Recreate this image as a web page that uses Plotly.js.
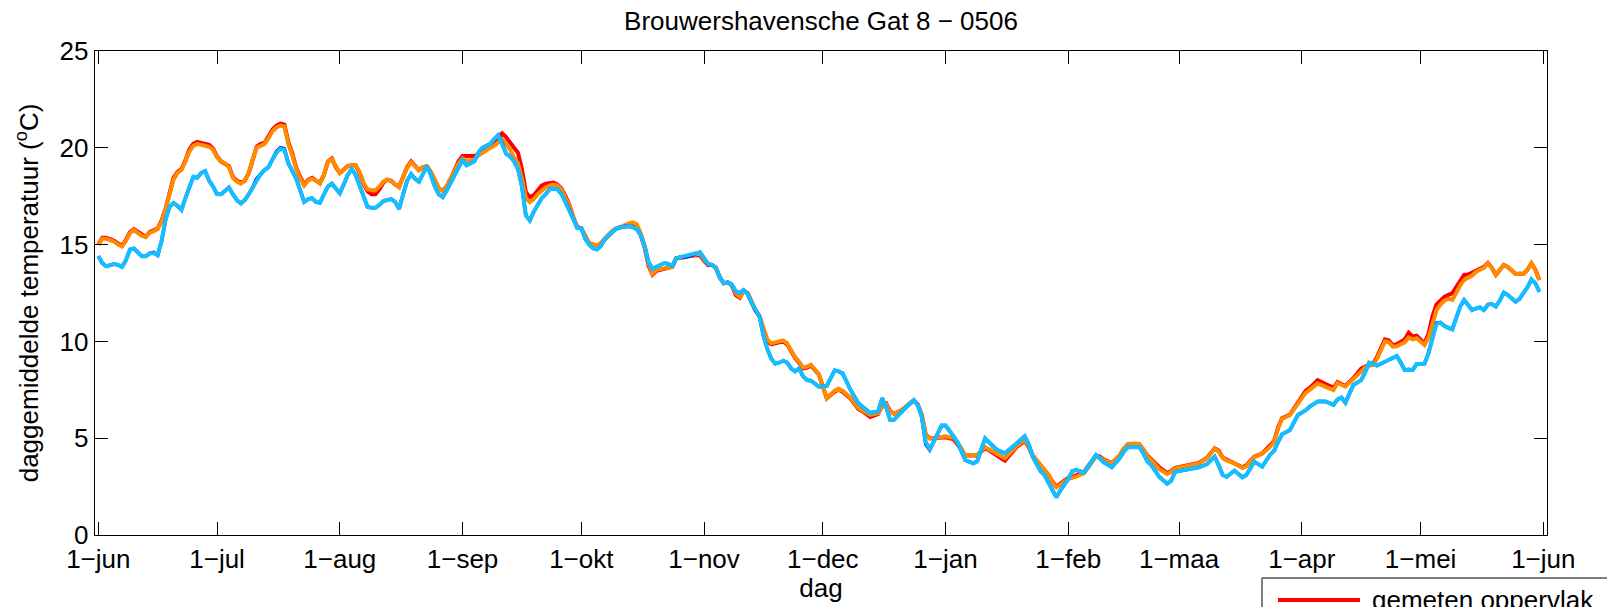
<!DOCTYPE html>
<html>
<head>
<meta charset="utf-8">
<script src="https://cdn.plot.ly/plotly-3.0.1.min.js"></script>
<style>html,body{margin:0;padding:0;background:#fff;}#chart{width:1607px;height:607px;}</style>
</head>
<body>
<div id="chart"></div>
<script>
// Day offsets from 1 June 2005
const startDate = Date.UTC(2005, 5, 1);
const dayOffsets = [
  0,1,2,3,4,5,6,7,8,9,10,11,12,13,14,15,16,17,18,19,20,21,22,23,24,25,26,27,28,29,
  30,31,32,33,34,35,36,37,38,39,40,41,42,43,44,45,46,47,48,49,50,51,52,53,54,55,56,57,58,59,
  60,61,62,63,64,65,66,67,68,69,70,71,72,73,74,75,76,77,78,79,80,81,82,83,84,85,86,87,88,89,
  90,91,92,93,94,95,96,97,98,99,100,101,102,103,104,105,106,107,108,109,110,111,112,113,114,115,116,117,118,119,
  120,121,122,123,124,125,126,127,128,129,130,131,132,133,134,135,136,137,138,139,140,141,142,143,144,145,146,147,148,149,
  150,151,152,153,154,155,156,157,158,159,160,161,162,163,164,165,166,167,168,169,170,171,172,173,174,175,176,177,178,179,
  180,
  182,184,186,187,188,190,192,193,195,197,
  198,199,200,201,203,205,206,207,208,209,
  210,211,213,214,215,216,217,219,221,222,
  224,226,227,229,231,232,234,235,236,238,
  239,240,241,242,243,245,246,247,249,250,
  251,252,253,254,256,258,259,260,262,263,
  264,265,266,268,270,271,272,275,278,280,
  282,283,284,285,287,289,290,292,294,296,
  297,298,299,301,303,305,306,308,310,312,
  313,314,315,317,319,320,321,322,323,325,
  326,327,328,329,330,331,332,333,334,335,
  336,337,338,339,340,341,342,343,344,345,
  346,347,348,349,350,351,352,353,354,355,
  356,357,358,359,360,361,362,363,364
];

// gemeten oppervlak (red)
const gemetenOppervlak = [
  15.0,15.35,15.35,15.3,15.2,15.05,14.95,15.25,15.65,15.8,
  15.65,15.5,15.4,15.65,15.72,15.82,16.25,16.85,17.65,18.45,
  18.75,18.9,19.35,19.9,20.2,20.3,20.25,20.2,20.15,19.95,
  19.55,19.3,19.2,19.05,18.5,18.3,18.2,18.3,18.7,19.4,
  20.05,20.2,20.25,20.6,20.95,21.15,21.25,21.2,20.3,19.7,
  18.95,18.5,18.1,18.35,18.45,18.3,18.2,18.6,19.3,19.45,
  19.0,18.7,18.85,19.05,19.1,19.1,18.7,18.15,17.75,17.6,
  17.6,17.85,18.2,18.35,18.3,18.1,18.0,18.5,19.0,19.3,
  19.05,18.85,19.0,19.05,18.75,18.3,17.9,17.8,18.0,18.4,
  18.85,19.3,19.58,19.58,19.58,19.58,19.65,19.85,19.95,20.05,
  20.2,20.55,20.75,20.55,20.25,20.0,19.75,18.9,17.7,17.45,
  17.55,17.8,18.05,18.15,18.2,18.2,18.1,17.9,17.5,17.05,
  16.4,15.9,15.85,15.4,15.05,14.9,14.85,15.05,15.3,15.5,
  15.7,15.85,15.9,15.95,16.0,16.0,15.85,15.5,14.85,13.9,
  13.45,13.65,13.7,13.75,13.8,13.85,14.3,14.3,14.35,14.4,
  14.45,14.45,14.45,14.15,13.95,13.95,13.8,13.3,13.0,13.05,
  12.9,12.4,12.25,12.6,12.5,12.0,11.6,11.3,10.6,10.0,
  9.85,9.9,9.95,10.0,9.85,9.45,9.15,8.9,8.6,8.65,
  8.75,
  8.3,7.06,7.4,7.5,7.4,7.05,6.5,6.4,6.1,6.25,
  6.75,6.8,6.4,6.26,6.46,6.8,6.94,6.75,6.2,5.2,
  5.0,5.0,5.05,5.05,5.0,4.95,4.7,4.1,4.1,4.1,
  4.5,4.2,4.1,3.84,4.35,4.55,4.85,4.55,4.1,3.6,
  3.3,3.1,2.75,2.5,2.65,2.95,3.0,3.1,3.25,3.55,
  3.85,4.1,4.05,3.9,3.72,4.1,4.45,4.65,4.68,4.65,
  4.4,4.1,3.9,3.5,3.2,3.3,3.47,3.62,3.72,3.98,
  4.48,4.35,4.0,3.9,3.72,3.5,3.6,4.05,4.22,4.6,
  4.85,5.55,6.03,6.22,6.8,7.45,7.6,8.0,7.8,7.6,
  7.9,7.8,7.7,8.1,8.6,8.7,8.8,8.85,9.2,10.1,
  10.05,9.8,9.85,9.95,10.1,10.45,10.25,10.3,10.1,9.9,
  10.4,11.3,11.9,12.1,12.3,12.4,12.48,12.8,13.1,13.43,
  13.45,13.55,13.65,13.72,13.85,14.05,13.8,13.43,13.7,13.95,
  13.85,13.65,13.48,13.5,13.5,13.7,14.03,13.7,13.17
];

// berekend oppervlak (orange)
const berekendOppervlak = [
  15.0,15.3,15.3,15.25,15.15,15.0,14.9,15.2,15.6,15.75,
  15.6,15.45,15.4,15.62,15.7,15.8,16.2,16.8,17.6,18.35,
  18.7,18.85,19.3,19.8,20.1,20.2,20.15,20.1,20.05,19.9,
  19.5,19.3,19.2,19.0,18.45,18.25,18.15,18.3,18.7,19.4,
  20.0,20.1,20.2,20.5,20.85,21.05,21.15,21.1,20.2,19.6,
  18.9,18.4,18.05,18.3,18.4,18.3,18.15,18.6,19.3,19.4,
  19.0,18.7,18.85,19.05,19.1,19.1,18.75,18.2,17.85,17.8,
  17.8,18.0,18.25,18.35,18.3,18.1,17.95,18.5,18.95,19.25,
  19.05,18.85,19.0,19.05,18.75,18.3,17.9,17.75,18.0,18.4,
  18.8,19.2,19.45,19.35,19.35,19.4,19.6,19.75,19.9,20.0,
  20.1,20.3,20.45,20.2,19.9,19.5,19.2,18.4,17.4,17.2,
  17.35,17.6,17.8,17.95,18.05,18.1,18.05,17.85,17.4,17.0,
  16.4,15.9,15.85,15.4,15.1,15.0,14.95,15.1,15.35,15.55,
  15.75,15.85,15.95,16.05,16.1,16.15,16.05,15.6,14.95,14.0,
  13.5,13.7,13.75,13.8,13.85,13.85,14.3,14.3,14.35,14.4,
  14.45,14.5,14.55,14.2,14.0,13.95,13.8,13.3,13.0,13.05,
  12.9,12.5,12.3,12.6,12.5,12.0,11.6,11.3,10.7,10.1,
  9.9,9.95,10.0,10.05,9.9,9.5,9.2,8.95,8.65,8.7,
  8.8,
  8.3,7.06,7.45,7.55,7.45,7.1,6.55,6.45,6.2,6.29,
  6.6,6.75,6.35,6.26,6.46,6.8,6.94,6.75,6.2,5.2,
  4.99,5.0,5.1,5.1,5.05,5.04,4.8,4.13,4.13,4.15,
  4.53,4.3,4.2,3.96,4.39,4.6,4.9,4.6,4.13,3.6,
  3.3,3.1,2.7,2.46,2.6,2.9,2.95,3.01,3.19,3.5,
  3.8,4.05,4.0,3.85,3.7,4.1,4.45,4.7,4.72,4.7,
  4.4,4.05,3.85,3.4,3.15,3.25,3.44,3.55,3.7,3.95,
  4.45,4.3,3.98,3.85,3.7,3.46,3.55,4.02,4.2,4.55,
  4.8,5.5,6.0,6.2,6.75,7.35,7.5,7.83,7.65,7.49,
  7.85,7.75,7.66,8.05,8.5,8.65,8.75,8.78,9.1,10.0,
  9.95,9.73,9.75,9.85,9.95,10.2,10.1,10.16,10.0,9.81,
  10.2,11.0,11.6,11.9,12.1,12.2,12.14,12.5,12.9,13.17,
  13.3,13.4,13.6,13.69,13.8,14.03,13.8,13.43,13.7,13.95,
  13.85,13.65,13.48,13.5,13.5,13.7,14.03,13.7,13.17
];

// gemeten bodem (blue)
const gemetenBodem = [
  14.4,14.05,13.88,13.95,14.0,13.95,13.85,14.2,14.75,14.8,
  14.6,14.4,14.4,14.55,14.6,14.45,15.2,16.3,16.95,17.15,
  17.0,16.8,17.4,17.9,18.5,18.45,18.7,18.8,18.3,18.0,
  17.6,17.6,17.8,17.95,17.6,17.3,17.13,17.3,17.6,17.95,
  18.4,18.65,18.85,19.0,19.45,19.8,20.0,19.95,19.2,18.8,
  18.4,17.8,17.2,17.35,17.4,17.2,17.16,17.6,18.0,18.15,
  17.9,17.65,18.1,18.6,18.9,18.6,18.05,17.5,16.95,16.9,
  16.9,17.05,17.25,17.3,17.35,17.2,16.85,17.6,18.3,18.65,
  18.4,18.25,18.7,19.05,18.6,18.0,17.6,17.45,17.8,18.2,
  18.6,19.0,19.37,19.1,19.2,19.3,19.75,20.0,20.1,20.2,
  20.45,20.65,20.25,19.7,19.55,19.3,18.9,18.0,16.5,16.25,
  16.7,17.05,17.4,17.6,17.85,17.9,17.85,17.6,17.2,16.8,
  16.3,15.85,15.85,15.3,15.0,14.8,14.75,14.95,15.3,15.5,
  15.7,15.85,15.9,15.95,15.95,15.9,15.8,15.5,14.9,14.1,
  13.75,13.85,13.95,14.05,14.0,13.9,14.3,14.35,14.35,14.4,
  14.45,14.55,14.6,14.3,14.0,13.95,13.8,13.3,13.0,13.05,
  12.95,12.6,12.5,12.65,12.45,12.0,11.6,11.3,10.3,9.6,
  9.1,8.85,8.9,9.0,8.9,8.6,8.45,8.6,8.2,8.0,
  7.97,
  7.66,7.7,8.5,8.45,8.35,7.5,6.8,6.63,6.3,6.4,
  7.06,6.6,5.95,5.95,6.4,6.8,6.97,6.7,6.1,4.7,
  4.4,4.8,5.65,5.65,5.4,5.1,4.8,3.87,3.7,3.8,
  4.99,4.56,4.4,4.22,4.6,4.73,5.1,4.7,4.05,3.3,
  3.1,2.7,2.3,1.95,2.3,2.9,3.3,3.36,3.22,3.55,
  3.85,4.13,3.95,3.75,3.5,3.96,4.3,4.53,4.55,4.53,
  4.2,3.8,3.6,3.0,2.65,2.8,3.27,3.4,3.5,3.65,
  4.05,3.6,3.1,3.01,3.32,2.98,3.1,3.79,3.53,4.15,
  4.35,4.8,5.2,5.42,6.2,6.45,6.63,6.9,6.9,6.72,
  7.0,7.1,6.83,7.75,8.0,8.4,8.9,8.85,8.75,8.95,
  9.05,9.15,9.25,8.9,8.52,8.55,8.52,8.83,8.83,8.85,
  9.4,10.2,10.95,10.97,10.8,10.7,10.62,11.2,11.8,12.14,
  11.85,11.62,11.7,11.76,11.62,11.9,11.93,11.8,12.1,12.52,
  12.4,12.2,12.05,12.2,12.5,12.8,13.2,13.0,12.57
];

// berekend bodem (cyan)
const berekendBodem = [
  14.4,14.05,13.88,13.95,14.0,13.95,13.85,14.2,14.75,14.8,
  14.6,14.4,14.4,14.55,14.55,14.45,15.2,16.3,16.95,17.15,
  17.0,16.8,17.4,17.9,18.5,18.45,18.7,18.8,18.3,18.0,
  17.6,17.6,17.8,17.95,17.6,17.3,17.13,17.3,17.6,17.95,
  18.4,18.65,18.85,19.0,19.4,19.75,19.95,19.9,19.2,18.8,
  18.4,17.8,17.2,17.35,17.4,17.2,17.16,17.6,18.0,18.15,
  17.9,17.65,18.1,18.6,18.9,18.6,18.05,17.5,16.95,16.9,
  16.9,17.05,17.25,17.3,17.35,17.2,16.85,17.6,18.3,18.65,
  18.4,18.25,18.7,19.05,18.6,18.0,17.6,17.45,17.8,18.2,
  18.6,19.0,19.37,19.1,19.2,19.3,19.75,20.0,20.1,20.2,
  20.45,20.65,20.2,19.7,19.55,19.3,18.9,18.0,16.5,16.25,
  16.7,17.05,17.4,17.6,17.85,17.9,17.85,17.6,17.2,16.8,
  16.3,15.85,15.85,15.3,15.0,14.8,14.75,14.95,15.3,15.5,
  15.7,15.85,15.9,15.95,15.95,15.9,15.8,15.5,14.9,14.1,
  13.75,13.85,13.95,14.05,14.0,13.9,14.3,14.35,14.35,14.4,
  14.45,14.55,14.6,14.3,14.0,13.95,13.8,13.3,13.0,13.05,
  12.95,12.6,12.5,12.65,12.45,12.0,11.6,11.3,10.3,9.6,
  9.1,8.85,8.9,9.0,8.9,8.6,8.45,8.6,8.2,8.0,
  7.97,
  7.66,7.7,8.5,8.45,8.35,7.5,6.8,6.63,6.3,6.4,
  7.06,6.6,5.95,5.95,6.4,6.8,6.97,6.7,6.1,4.8,
  4.45,4.8,5.65,5.65,5.4,5.1,4.8,3.87,3.7,3.8,
  4.99,4.56,4.4,4.22,4.6,4.73,5.1,4.7,4.05,3.3,
  3.1,2.7,2.3,1.95,2.3,2.9,3.3,3.36,3.22,3.55,
  3.85,4.13,3.95,3.75,3.5,3.96,4.3,4.53,4.55,4.53,
  4.2,3.8,3.6,3.0,2.65,2.8,3.27,3.4,3.5,3.65,
  4.05,3.6,3.1,3.01,3.32,2.98,3.1,3.79,3.53,4.15,
  4.35,4.8,5.2,5.42,6.2,6.45,6.63,6.9,6.9,6.72,
  7.0,7.1,6.83,7.75,8.0,8.4,8.9,8.85,8.75,8.95,
  9.05,9.15,9.25,8.9,8.52,8.55,8.52,8.83,8.83,8.85,
  9.4,10.2,10.9,10.97,10.8,10.7,10.62,11.2,11.8,12.14,
  11.85,11.62,11.7,11.76,11.62,11.9,11.93,11.8,12.1,12.52,
  12.4,12.2,12.05,12.2,12.5,12.8,13.2,13.0,12.57
];

const tickDates = ['2005-06-01','2005-07-01','2005-08-01','2005-09-01','2005-10-01','2005-11-01',
  '2005-12-01','2006-01-01','2006-02-01','2006-03-01','2006-04-01','2006-05-01','2006-06-01'];
const tickLabels = ['1\u2212jun','1\u2212jul','1\u2212aug','1\u2212sep','1\u2212okt','1\u2212nov',
  '1\u2212dec','1\u2212jan','1\u2212feb','1\u2212maa','1\u2212apr','1\u2212mei','1\u2212jun'];
const yTicks = [0, 5, 10, 15, 20, 25];

const dates = dayOffsets.map(d => new Date(startDate + d * 86400000).toISOString().slice(0, 10));

const FONT = 'Liberation Sans, Arial, Helvetica, sans-serif';

const traces = [
  {x: dates, y: gemetenOppervlak, name: 'gemeten oppervlak', mode: 'lines', line: {color: 'rgb(255,0,0)', width: 4}},
  {x: dates, y: berekendOppervlak, name: 'berekend oppervlak', mode: 'lines', line: {color: 'rgb(255,140,0)', width: 4}},
  {x: dates, y: gemetenBodem, name: 'gemeten bodem', mode: 'lines', line: {color: 'rgb(0,0,255)', width: 3.5}},
  {x: dates, y: berekendBodem, name: 'berekend bodem', mode: 'lines', line: {color: 'rgb(20,190,255)', width: 4}}
];
traces.forEach(t => { t.showlegend = false; t.hoverinfo = 'skip'; });

// plot area in pixels: x 95..1547, y 51..535
const px = v => (v - 95) / 1452;
const py = v => (535 - v) / 484;

const layout = {
  width: 1607, height: 607,
  margin: {l: 95, r: 60, t: 51, b: 72, autoexpand: false},
  paper_bgcolor: '#fff', plot_bgcolor: '#fff',
  font: {family: FONT, size: 26, color: '#000'},
  showlegend: false,
  title: {text: 'Brouwershavensche Gat 8 \u2212 0506', font: {family: FONT, size: 26, color: '#000'},
          x: 0.5, xref: 'paper', xanchor: 'center', y: 1 - 21 / 607, yref: 'container', yanchor: 'middle'},
  xaxis: {
    type: 'date', range: ['2005-05-31 04:00', '2006-06-01 22:20'],
    tickmode: 'array', tickvals: tickDates, ticktext: tickLabels,
    ticks: 'inside', ticklen: 13, tickwidth: 1, tickcolor: '#000',
    showline: true, linecolor: '#000', linewidth: 1.3, mirror: 'ticks',
    showgrid: false, zeroline: false,
    tickfont: {family: FONT, size: 26, color: '#000'},
    title: {text: 'dag', font: {family: FONT, size: 26, color: '#000'}, standoff: 6}
  },
  yaxis: {
    range: [0, 25], tickmode: 'array', tickvals: yTicks, ticktext: yTicks.map(String),
    ticks: 'inside', ticklen: 13, tickwidth: 1, tickcolor: '#000',
    showline: true, linecolor: '#000', linewidth: 1.3, mirror: 'ticks',
    showgrid: false, zeroline: false,
    tickfont: {family: FONT, size: 26, color: '#000'},
    title: {text: 'daggemiddelde temperatuur (<sup>o</sup>C)', font: {family: FONT, size: 26, color: '#000'}, standoff: 13}
  },
  shapes: [
    {type: 'rect', xref: 'paper', yref: 'paper', x0: px(1262), x1: px(1640), y0: py(578), y1: py(760),
     line: {color: '#000', width: 1}, fillcolor: '#fff', layer: 'above'},
    {type: 'line', xref: 'paper', yref: 'paper', x0: px(1278), x1: px(1360), y0: py(600), y1: py(600),
     line: {color: 'rgb(255,0,0)', width: 4}, layer: 'above'}
  ],
  annotations: [
    {xref: 'paper', yref: 'paper', x: px(1370), y: py(600), xanchor: 'left', yanchor: 'middle',
     text: traces[0].name, showarrow: false, font: {family: FONT, size: 26, color: '#000'}}
  ]
};

Plotly.newPlot('chart', traces, layout, {displayModeBar: false, staticPlot: true});
</script>
</body>
</html>
